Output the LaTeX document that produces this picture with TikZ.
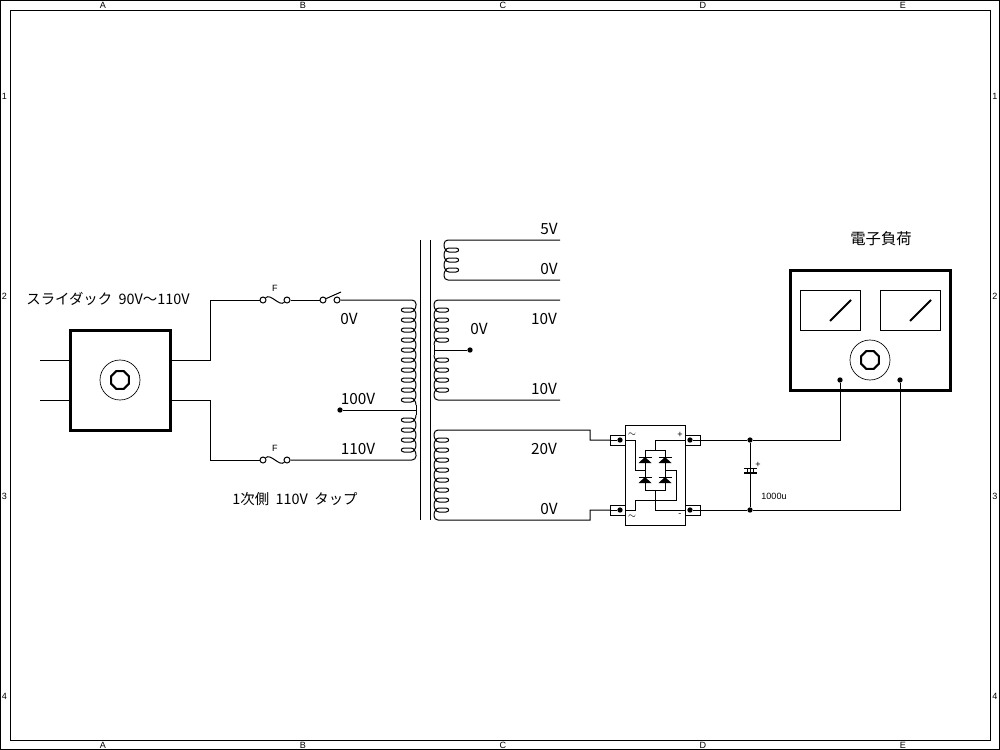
\documentclass[tikz,border=0pt]{standalone}
\usepackage{fontspec}
\setmainfont{Noto Sans CJK JP}
\newfontfamily\framefont{Liberation Sans}
\usetikzlibrary{shapes.geometric}
\newcommand{\turns}[3]{%
    \foreach \y in {#3}
        \draw[shift={(#1,\y)},xscale=#2] (-1,-5) .. controls (-1,-2) and (-3,2) .. (-6,2) -- (-13,2)
            .. controls (-16.5,2) and (-16.5,-2) .. (-13,-2) -- (-6,-2) .. controls (-3,-2) and (-1,2) .. (-1,5);
}
\newcommand{\diode}[3]{%
    \coordinate (#1a) at (#2,#3);
    \coordinate (#1k) at (#2,#3-6);
    \fill (#2-6.5,#3) -- (#2+6.5,#3) -- (#2,#3-6) -- cycle;
    \draw (#2-6.5,#3-6) -- (#2+6.5,#3-6);
}
\tikzset{
    heavy/.style={draw,line width=2.25pt,inner sep=0pt,outer sep=0pt},
    thinbox/.style={draw,line width=0.75pt,inner sep=0pt,outer sep=0pt},
    term/.style={circle,draw,line width=0.75pt,inner sep=0pt,minimum size=4.5pt},
    dot/.style={circle,fill=black,inner sep=0pt,minimum size=4pt},
    knob/.style={circle,draw,line width=0.5pt,inner sep=0pt,minimum size=30pt},
    octa/.style={regular polygon,regular polygon sides=8,draw,line width=1.5pt,inner sep=0pt,minimum size=14.5pt},
    lbl/.style={inner sep=0pt,font=\fontsize{11.5pt}{12pt}\selectfont},
    lblsmall/.style={inner sep=0pt,font=\fontsize{10.8pt}{12pt}\selectfont},
    tiny/.style={inner sep=0pt,font=\framefont\fontsize{6.8pt}{7pt}\selectfont},
}
\begin{document}
\begin{tikzpicture}[x=0.75pt,y=-0.75pt,line width=0.75pt]
    \useasboundingbox (0,0) rectangle (1000,750);
    \draw (0.5,0.5) rectangle (999.5,749.5);
    \draw (10,10) rectangle (990,740);
    \foreach \x/\t in {103/A,303/B,503/C,703/D,903/E} {
        \node[tiny] (top\t) at (\x,5) {\t};
        \node[tiny] (bot\t) at (\x,745) {\t};
    }
    \foreach \y/\t in {96/1,296/2,496/3,696/4} {
        \node[tiny] (left\t) at (4.5,\y) {\t};
        \node[tiny] (right\t) at (995,\y) {\t};
    }

    % slide transformer
    \node[heavy,minimum size=75pt] (slidac) at (120,380) {};
    \node[knob] (slknob) at (120,380) {};
    \node[octa] (sloct) at (120,380) {};
    \node[lblsmall] (sllabel) at (108,299) {スライダック\ \ 90V～110V};
    \coordinate (slin1) at (70,360);
    \coordinate (slin2) at (70,400);
    \coordinate (slout1) at (170,360);
    \coordinate (slout2) at (170,400);
    \coordinate (inA) at (40,360);
    \coordinate (inB) at (40,400);
    \draw (inA) -- (slin1);
    \draw (inB) -- (slin2);

    % fuses and switch
    \node[term] (fa1) at (263,300) {};
    \node[term] (fa2) at (287,300) {};
    \node[term] (fb1) at (263,460) {};
    \node[term] (fb2) at (287,460) {};
    \node[term] (sw1) at (323,300) {};
    \node[term] (sw2) at (337,300) {};
    \draw (fa1) .. controls (271,293) and (279,307) .. (fa2);
    \draw (fb1) .. controls (271,453) and (279,467) .. (fb2);
    \draw (sw1) -- (341,292);
    \node[tiny] (fa) at (275,288) {F};
    \node[tiny] (fb) at (275,448) {F};
    \draw (slout1) -- (210,360) -- (210,300) -- (fa1);
    \draw (slout2) -- (210,400) -- (210,460) -- (fb1);
    \draw (fa2) -- (sw1);

    % core
    \draw (420,240) -- (420,520);
    \draw (430,240) -- (430,520);

    % primary
    \turns{417}{1}{310,320,330,340,350,360,370,380,390,400,420,430,440,450}
    \node[dot] (tap100) at (340,410) {};
    \coordinate (tap110) at (416,455);
    \coordinate (tap0) at (416,305);
    \draw[rounded corners=3] (sw2) -- (416,300) -- (tap0);
    \draw (416,405) -- (416,415);
    \draw (tap100) -- (416,410);
    \draw[rounded corners=3] (fb2) -- (416,460) -- (tap110);
    \node[lbl] (v0p) at (349,319) {0V};
    \node[lbl] (v100) at (358,399) {100V};
    \node[lbl] (v110) at (358,449) {110V};
    \node[lblsmall] (note) at (295,499) {1次側\ \ 110V\ \ タップ};

    % secondaries
    \turns{443}{-1}{250,260,270}
    \draw[rounded corners=3] (444,245) -- (444,240) -- (560,240);
    \draw[rounded corners=3] (444,275) -- (444,280) -- (560,280);
    \node[lbl] (v5) at (549,229) {5V};
    \node[lbl] (v0a) at (549,269) {0V};

    \turns{433}{-1}{310,320,330,340,360,370,380,390}
    \node[dot] (ctap) at (470,350) {};
    \draw[rounded corners=3] (434,305) -- (434,300) -- (560,300);
    \draw[rounded corners=3] (434,395) -- (434,400) -- (560,400);
    \draw (434,345) -- (434,355);
    \draw (434,350) -- (ctap);
    \node[lbl] (v0b) at (479,329) {0V};
    \node[lbl] (v10a) at (544,319) {10V};
    \node[lbl] (v10b) at (544,389) {10V};

    \turns{433}{-1}{440,450,460,470,480,490,500,510}
    \node[lbl] (v20) at (544,449) {20V};
    \node[lbl] (v0c) at (549,509) {0V};

    % bridge
    \node[thinbox,minimum width=45pt,minimum height=75pt] (bridge) at (655,475) {};
    \node[thinbox,minimum width=11.25pt,minimum height=7.5pt] (pa) at (617.5,440) {};
    \node[thinbox,minimum width=11.25pt,minimum height=7.5pt] (pb) at (617.5,510) {};
    \node[thinbox,minimum width=11.25pt,minimum height=7.5pt] (pc) at (692.5,440) {};
    \node[thinbox,minimum width=11.25pt,minimum height=7.5pt] (pd) at (692.5,510) {};
    \node[dot] (pad) at (620,440) {};
    \node[dot] (pbd) at (620,510) {};
    \node[dot] (pcd) at (690,440) {};
    \node[dot] (pdd) at (690,510) {};
    \node[tiny] (acA) at (632,435) {$\sim$};
    \node[tiny] (acB) at (632,517) {$\sim$};
    \node[tiny] (plus) at (680,435) {+};
    \node[tiny] (minus) at (680,515) {-};
    \draw[rounded corners=3] (434,435) -- (434,430) -- (480,430) [sharp corners] -- (590,430) -- (590,440) -- (pa.west);
    \draw[rounded corners=3] (434,515) -- (434,520) -- (480,520) [sharp corners] -- (590,520) -- (590,510) -- (pb.west);
    \draw (pad) -- (pa.west);
    \draw (pbd) -- (pb.west);
    \diode{da}{645}{463}
    \diode{db}{665}{463}
    \diode{dc}{645}{483}
    \diode{dd}{665}{483}
    \draw (dak) -- (645,450) -- (665,450) -- (dbk);
    \draw (dck) -- (daa);
    \draw (ddk) -- (dba);
    \draw (dca) -- (645,490) -- (665,490) -- (dda);
    \draw (pa.east) -- (635,440) -- (635,470) -- (645,470);
    \draw (pb.east) -- (635,510) -- (635,500) -- (676,500) -- (676,470) -- (665,470);
    \draw (655,450) -- (655,440) -- (pc.west);
    \draw (655,490) -- (655,510) -- (pd.west);

    % capacitor
    \node[dot] (np) at (750,440) {};
    \node[dot] (nn) at (750,510) {};
    \draw (np) -- (nn);
    \draw (744,468) -- (757,468);
    \draw[line width=1.5pt] (744,473) -- (757,473);
    \foreach \x in {747,753} \draw (\x,468) -- (\x,473);
    \node[tiny] (capplus) at (758,465) {+};
    \node[tiny] (capval) at (774,496) {1000u};

    % load
    \node[heavy,minimum width=120pt,minimum height=90pt] (load) at (870,330) {};
    \node[thinbox,minimum width=45pt,minimum height=30pt] (meterA) at (830,310) {};
    \node[thinbox,minimum width=45pt,minimum height=30pt] (meterB) at (910,310) {};
    \draw[line width=1.5pt] (830,321) -- (851,300);
    \draw[line width=1.5pt] (910,321) -- (931,300);
    \node[knob] (loadknob) at (870,360) {};
    \node[octa] (loadoct) at (870,360) {};
    \node[dot] (lp) at (840,380) {};
    \node[dot] (ln) at (900,380) {};
    \node[lbl] (loadlabel) at (881,239) {電子負荷};
    \draw (pcd) -- (np) -- (840,440) -- (lp);
    \draw (pdd) -- (nn) -- (900,510) -- (ln);
\end{tikzpicture}
\end{document}
